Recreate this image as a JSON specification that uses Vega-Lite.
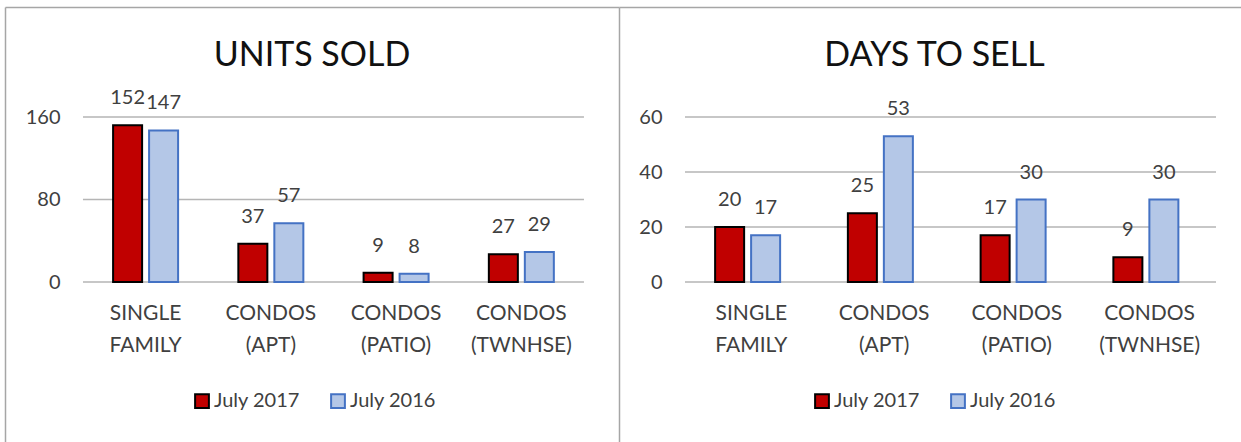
{
  "$schema": "https://vega.github.io/schema/vega-lite/v6.json",
  "padding": {"left": 5, "top": 7, "right": 0, "bottom": 0},
  "background": "white",
  "spacing": 0,
  "bounds": "flush",
  "config": {
    "font": "Lato",
    "view": {"stroke": null},
    "axis": {"labelFont": "Lato", "labelColor": "#404040", "labelFontSize": 20, "ticks": false, "tickSize": 0, "title": null, "grid": false, "domain": false},
    "legend": {"labelFont": "Lato", "labelColor": "#404040", "labelFontSize": 20}
  },
  "resolve": {"scale": {"color": "independent", "stroke": "independent"}},
  "datasets": {
    "units": [
      {"cat": "SINGLE FAMILY", "series": "July 2017", "v": 152},
      {"cat": "SINGLE FAMILY", "series": "July 2016", "v": 147},
      {"cat": "CONDOS (APT)", "series": "July 2017", "v": 37},
      {"cat": "CONDOS (APT)", "series": "July 2016", "v": 57},
      {"cat": "CONDOS (PATIO)", "series": "July 2017", "v": 9},
      {"cat": "CONDOS (PATIO)", "series": "July 2016", "v": 8},
      {"cat": "CONDOS (TWNHSE)", "series": "July 2017", "v": 27},
      {"cat": "CONDOS (TWNHSE)", "series": "July 2016", "v": 29}
    ],
    "days": [
      {"cat": "SINGLE FAMILY", "series": "July 2017", "v": 20},
      {"cat": "SINGLE FAMILY", "series": "July 2016", "v": 17},
      {"cat": "CONDOS (APT)", "series": "July 2017", "v": 25},
      {"cat": "CONDOS (APT)", "series": "July 2016", "v": 53},
      {"cat": "CONDOS (PATIO)", "series": "July 2017", "v": 17},
      {"cat": "CONDOS (PATIO)", "series": "July 2016", "v": 30},
      {"cat": "CONDOS (TWNHSE)", "series": "July 2017", "v": 9},
      {"cat": "CONDOS (TWNHSE)", "series": "July 2016", "v": 30}
    ],
    "unitsGrid": [{"g": 0}, {"g": 80}, {"g": 160}],
    "daysGrid": [{"g": 0}, {"g": 20}, {"g": 40}, {"g": 60}]
  },
  "hconcat": [
    {
      "width": 614,
      "height": 435,
      "title": {"text": "UNITS SOLD", "fontSize": 34, "font": "Lato", "fontWeight": "normal", "color": "#111111", "anchor": "middle", "frame": "group", "baseline": "alphabetic", "offset": -93},
      "resolve": {"axis": {"x": "independent", "y": "independent"}},
      "layer": [
        {
          "data": {"name": "unitsGrid"},
          "mark": {"type": "rule", "color": "#B5B5B5", "strokeWidth": 1.5},
          "encoding": {
            "y": {"field": "g", "type": "quantitative", "scale": {"domain": [-155.15, 266.67], "nice": false, "zero": false}, "axis": {"orient": "left", "domain": true, "domainColor": "#A6A6A6", "domainWidth": 1.5, "labels": false}},
            "x": {"datum": "SINGLE FAMILY", "type": "nominal", "bandPosition": 0, "scale": {"domain": ["SINGLE FAMILY", "CONDOS (APT)", "CONDOS (PATIO)", "CONDOS (TWNHSE)"], "paddingInner": 0, "paddingOuter": 0.4511, "align": 0.69}, "axis": {"orient": "top", "domain": true, "domainColor": "#A6A6A6", "domainWidth": 1.5, "labels": false}},
            "x2": {"datum": "CONDOS (TWNHSE)", "bandPosition": 1}
          }
        },
        {
          "data": {"name": "units"},
          "mark": {"type": "bar", "strokeWidth": 2},
          "encoding": {
            "x": {"field": "cat", "type": "nominal", "scale": {"domain": ["SINGLE FAMILY", "CONDOS (APT)", "CONDOS (PATIO)", "CONDOS (TWNHSE)"], "paddingInner": 0, "paddingOuter": 0.4511, "align": 0.69}, "axis": {"orient": "bottom", "offset": -160, "labelExpr": "split(datum.label, ' ')", "labelAngle": 0, "labelPadding": 20, "labelLineHeight": 32, "labelBaseline": "top", "labelFontSize": 21}},
            "xOffset": {"field": "series", "type": "nominal", "sort": ["July 2017", "July 2016"], "scale": {"paddingInner": 0.194, "paddingOuter": 0.837}},
            "y": {"field": "v", "type": "quantitative", "scale": {"domain": [-155.15, 266.67], "nice": false, "zero": false}, "axis": {"orient": "left", "offset": -55, "values": [0, 80, 160], "labelPadding": 0}},
            "color": {"field": "series", "type": "nominal", "scale": {"domain": ["July 2017", "July 2016"], "range": ["#C00000", "#B4C7E7"]}, "legend": {"orient": "none", "legendX": 187, "legendY": 384, "direction": "horizontal", "title": null, "symbolType": "square", "symbolSize": 190, "symbolStrokeWidth": 2, "columnPadding": 27, "labelOffset": 2}},
            "stroke": {"field": "series", "type": "nominal", "scale": {"domain": ["July 2017", "July 2016"], "range": ["#000000", "#4472C4"]}, "legend": {"orient": "none", "legendX": 187, "legendY": 384, "direction": "horizontal", "title": null, "symbolType": "square", "symbolSize": 190, "symbolStrokeWidth": 2, "columnPadding": 27, "labelOffset": 2}}
          }
        },
        {
          "data": {"name": "units"},
          "mark": {"type": "text", "baseline": "alphabetic", "dy": -21, "fontSize": 20, "color": "#404040", "font": "Lato"},
          "encoding": {
            "x": {"field": "cat", "type": "nominal", "scale": {"domain": ["SINGLE FAMILY", "CONDOS (APT)", "CONDOS (PATIO)", "CONDOS (TWNHSE)"], "paddingInner": 0, "paddingOuter": 0.4511, "align": 0.69}, "axis": null},
            "xOffset": {"field": "series", "type": "nominal", "sort": ["July 2017", "July 2016"], "scale": {"paddingInner": 0.194, "paddingOuter": 0.837}},
            "y": {"field": "v", "type": "quantitative", "scale": {"domain": [-155.15, 266.67], "nice": false, "zero": false}, "axis": null},
            "text": {"field": "v", "type": "quantitative"}
          }
        }
      ]
    },
    {
      "width": 622,
      "height": 435,
      "title": {"text": "DAYS TO SELL", "fontSize": 34, "font": "Lato", "fontWeight": "normal", "color": "#111111", "anchor": "middle", "frame": "group", "baseline": "alphabetic", "offset": -93, "dx": 4.5},
      "resolve": {"axis": {"x": "independent", "y": "independent"}},
      "layer": [
        {
          "data": {"name": "daysGrid"},
          "mark": {"type": "rule", "color": "#B5B5B5", "strokeWidth": 1.5},
          "encoding": {
            "y": {"field": "g", "type": "quantitative", "scale": {"domain": [-58.18, 100], "nice": false, "zero": false}, "axis": {"orient": "left", "domain": true, "domainColor": "#A6A6A6", "domainWidth": 1.5, "labels": false}},
            "x": {"datum": "SINGLE FAMILY", "type": "nominal", "bandPosition": 0, "scale": {"domain": ["SINGLE FAMILY", "CONDOS (APT)", "CONDOS (PATIO)", "CONDOS (TWNHSE)"], "paddingInner": 0, "paddingOuter": 0.3427, "align": 0.7253}, "axis": {"orient": "top", "domain": true, "domainColor": "#A6A6A6", "domainWidth": 1.5, "labels": false}},
            "x2": {"datum": "CONDOS (TWNHSE)", "bandPosition": 1}
          }
        },
        {
          "data": {"name": "days"},
          "mark": {"type": "bar", "strokeWidth": 2},
          "encoding": {
            "x": {"field": "cat", "type": "nominal", "scale": {"domain": ["SINGLE FAMILY", "CONDOS (APT)", "CONDOS (PATIO)", "CONDOS (TWNHSE)"], "paddingInner": 0, "paddingOuter": 0.3427, "align": 0.7253}, "axis": {"orient": "bottom", "offset": -160, "labelExpr": "split(datum.label, ' ')", "labelAngle": 0, "labelPadding": 20, "labelLineHeight": 32, "labelBaseline": "top", "labelFontSize": 21}},
            "xOffset": {"field": "series", "type": "nominal", "sort": ["July 2017", "July 2016"], "scale": {"paddingInner": 0.162, "paddingOuter": 0.875}},
            "y": {"field": "v", "type": "quantitative", "scale": {"domain": [-58.18, 100], "nice": false, "zero": false}, "axis": {"orient": "left", "offset": -43, "values": [0, 20, 40, 60], "labelPadding": 0}},
            "color": {"field": "series", "type": "nominal", "scale": {"domain": ["July 2017", "July 2016"], "range": ["#C00000", "#B4C7E7"]}, "legend": {"orient": "none", "legendX": 193, "legendY": 384, "direction": "horizontal", "title": null, "symbolType": "square", "symbolSize": 190, "symbolStrokeWidth": 2, "columnPadding": 27, "labelOffset": 2}},
            "stroke": {"field": "series", "type": "nominal", "scale": {"domain": ["July 2017", "July 2016"], "range": ["#000000", "#4472C4"]}, "legend": {"orient": "none", "legendX": 193, "legendY": 384, "direction": "horizontal", "title": null, "symbolType": "square", "symbolSize": 190, "symbolStrokeWidth": 2, "columnPadding": 27, "labelOffset": 2}}
          }
        },
        {
          "data": {"name": "days"},
          "mark": {"type": "text", "baseline": "alphabetic", "dy": -21, "fontSize": 20, "color": "#404040", "font": "Lato"},
          "encoding": {
            "x": {"field": "cat", "type": "nominal", "scale": {"domain": ["SINGLE FAMILY", "CONDOS (APT)", "CONDOS (PATIO)", "CONDOS (TWNHSE)"], "paddingInner": 0, "paddingOuter": 0.3427, "align": 0.7253}, "axis": null},
            "xOffset": {"field": "series", "type": "nominal", "sort": ["July 2017", "July 2016"], "scale": {"paddingInner": 0.162, "paddingOuter": 0.875}},
            "y": {"field": "v", "type": "quantitative", "scale": {"domain": [-58.18, 100], "nice": false, "zero": false}, "axis": null},
            "text": {"field": "v", "type": "quantitative"}
          }
        }
      ]
    }
  ]
}
